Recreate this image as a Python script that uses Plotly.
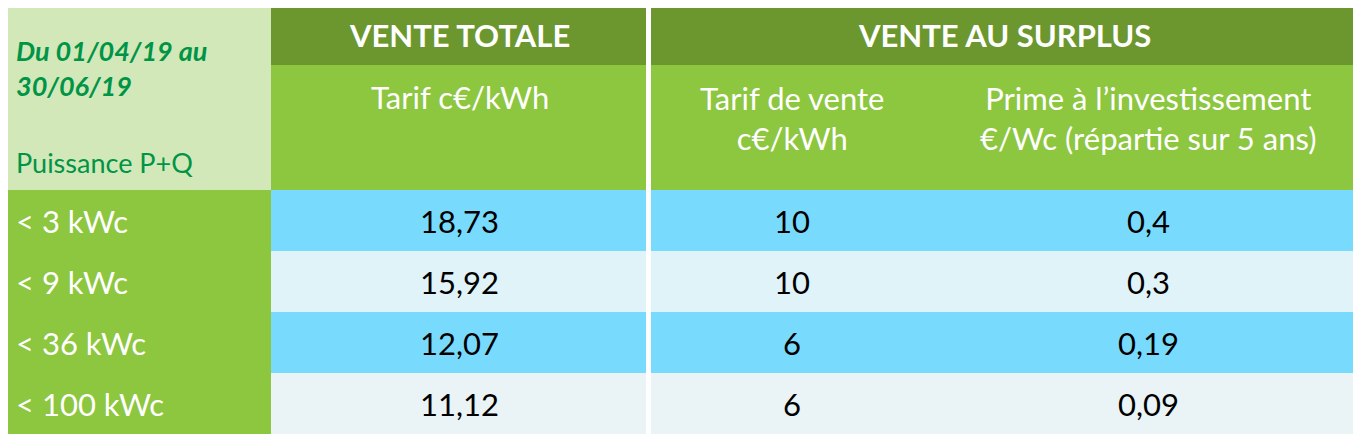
import plotly.graph_objects as go

# données du tableau
puissances = ["< 3 kWc", "< 9 kWc", "< 36 kWc", "< 100 kWc"]
tarif_vente_totale = ["18,73", "15,92", "12,07", "11,12"]
tarif_surplus = ["10", "10", "6", "6"]
prime_investissement = ["0,4", "0,3", "0,19", "0,09"]

periode = "Du 01/04/19 au<br>30/06/19"
titre_ligne = "Puissance P+Q"
groupes = ["VENTE TOTALE", "VENTE AU SURPLUS"]
sous_titres = ["Tarif c€/kWh", "Tarif de vente<br>c€/kWh",
               "Prime à l’investissement<br>€/Wc (répartie sur 5 ans)"]

W, H = 1361, 448
OFF = 8  # marge du body de la page
FONT = "Lato"
VERT_FONCE = "#6b972e"
VERT = "#8dc63f"
VERT_PALE = "#d3e8b8"
BLEU = "#78dbfd"
BLEU_PALE = ["#e0f3f8", "#eaf3f6"]

# limites des colonnes et des lignes (pixels)
xs = [0, 271, 648, 935, W]
y_top, y_h1, y_h2 = 5, 65, 190
row_h = 61

fig = go.Figure()
shapes, annots = [], []

def rect(x0, x1, y0, y1, color):
    shapes.append(dict(type="rect", x0=x0, x1=x1, y0=y0, y1=y1,
                       fillcolor=color, line_width=0, layer="below"))

def texte(x, y, t, size=31, color="black", bold=False, italic=False, xanchor="center"):
    if bold:
        t = f"<b>{t}</b>"
    if italic:
        t = f"<i>{t}</i>"
    annots.append(dict(x=x, y=y, text=t, showarrow=False, xanchor=xanchor,
                       align=xanchor if xanchor != "center" else "center",
                       yanchor="middle", font=dict(family=FONT, size=size, color=color)))

# en-têtes
rect(xs[0], xs[1], y_top, y_h2, VERT_PALE)
rect(xs[1], W + OFF, y_top, y_h1, VERT_FONCE)
rect(xs[1], W + OFF, y_h1, y_h2, VERT)
texte(14, 68, periode, size=27, color="#009447", bold=True, italic=True, xanchor="left")
texte(14, 162, titre_ligne, size=27, color="#009447", xanchor="left")
texte((xs[1] + xs[2]) / 2, 35, groupes[0], size=31, color="white", bold=True)
texte((xs[2] + xs[4]) / 2, 35, groupes[1], size=31, color="white", bold=True)
texte((xs[1] + xs[2]) / 2, 97, sous_titres[0], color="white")
texte((xs[2] + xs[3]) / 2, 118, sous_titres[1], color="white")
texte((xs[3] + xs[4]) / 2, 118, sous_titres[2], color="white")

# lignes de données
for i, p in enumerate(puissances):
    y0 = y_h2 + i * row_h
    y1 = y0 + row_h
    ym = (y0 + y1) / 2
    rect(xs[0], xs[1], y0, y1, VERT)
    rect(xs[1], W + OFF, y0, y1, BLEU if i % 2 == 0 else BLEU_PALE[i // 2])
    texte(14, ym, p, color="white", xanchor="left")
    texte((xs[1] + xs[2]) / 2, ym, tarif_vente_totale[i])
    texte((xs[2] + xs[3]) / 2, ym, tarif_surplus[i])
    texte((xs[3] + xs[4]) / 2, ym, prime_investissement[i])

# séparateur blanc
shapes.append(dict(type="rect", x0=xs[2] - 2, x1=xs[2] + 3, y0=y_top,
                   y1=y_h2 + 4 * row_h, fillcolor="white", line_width=0))

fig.update_layout(width=W, height=H, margin=dict(l=0, r=0, t=0, b=0),
                  paper_bgcolor="white", plot_bgcolor="white",
                  shapes=shapes, annotations=annots,
                  xaxis=dict(range=[OFF, W + OFF], visible=False, fixedrange=True),
                  yaxis=dict(range=[H + OFF, OFF], visible=False, fixedrange=True))
fig.write_html("out.html")
